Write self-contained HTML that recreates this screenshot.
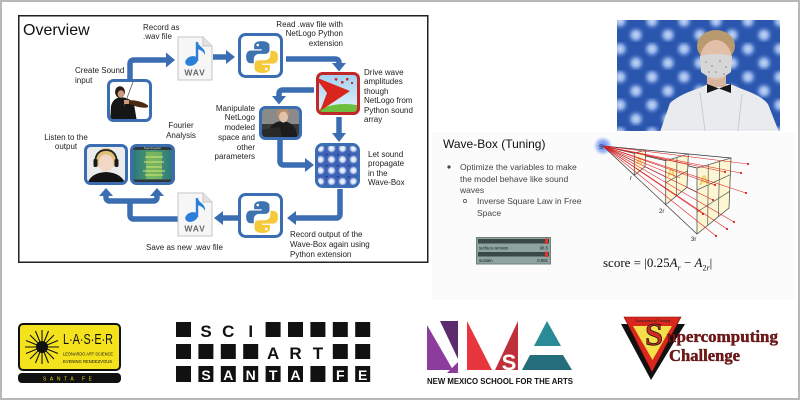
<!DOCTYPE html>
<html><head><meta charset="utf-8">
<style>
html,body{margin:0;padding:0;}
body{width:800px;height:400px;position:relative;overflow:hidden;background:#fff;font-family:"Liberation Sans",Arial,sans-serif;}
.frame{position:absolute;left:0;top:0;width:796px;height:396px;border:2px solid #b8b8b8;}
svg{position:absolute;left:0;top:0;}
.t{position:absolute;font-size:8px;line-height:9.5px;color:#222;white-space:nowrap;}
.r{text-align:right;}
.c{text-align:center;}
</style></head><body>
<svg width="800" height="400" viewBox="0 0 800 400" xmlns="http://www.w3.org/2000/svg">
<defs>
<radialGradient id="wg"><stop offset="0" stop-color="#ffffff"/><stop offset="0.55" stop-color="#c4d2f0"/><stop offset="1" stop-color="#3a5fb4" stop-opacity="0"/></radialGradient>
<pattern id="wp" width="11" height="11" patternUnits="userSpaceOnUse" x="315" y="143"><rect width="11" height="11" fill="#3d62b6"/><circle cx="5.5" cy="5.5" r="5" fill="url(#wg)"/><circle cx="0" cy="0" r="1.6" fill="#1c2f6e"/></pattern>
<radialGradient id="cg"><stop offset="0" stop-color="#c8d8f5"/><stop offset="0.4" stop-color="#8eaee6"/><stop offset="1" stop-color="#2a56ae" stop-opacity="0"/></radialGradient>
<pattern id="camp" width="32" height="28" patternUnits="userSpaceOnUse" x="612" y="14"><rect width="32" height="28" fill="#2a56ae"/><circle cx="8" cy="7" r="10" fill="url(#cg)"/><circle cx="24" cy="21" r="10" fill="url(#cg)"/></pattern>
<linearGradient id="sky" x1="0" y1="0" x2="0" y2="1"><stop offset="0" stop-color="#9fd0f2"/><stop offset="1" stop-color="#e6f4fb"/></linearGradient>
<linearGradient id="spec" x1="0" y1="0" x2="1" y2="0"><stop offset="0" stop-color="#2a7480"/><stop offset="0.5" stop-color="#4f9c6c"/><stop offset="1" stop-color="#2a7480"/></linearGradient>
<radialGradient id="glow"><stop offset="0" stop-color="#4a78f0"/><stop offset="0.6" stop-color="#7fa0f4" stop-opacity="0.7"/><stop offset="1" stop-color="#c8d6fa" stop-opacity="0"/></radialGradient>
<clipPath id="cam"><rect x="617" y="20" width="163" height="111"/></clipPath>
<clipPath id="c1"><rect x="108.5" y="80.5" width="42" height="40" rx="5"/></clipPath>
<clipPath id="c2"><rect x="85.5" y="145.5" width="41" height="38" rx="5"/></clipPath>
<clipPath id="c3"><rect x="131.5" y="145.5" width="42" height="38" rx="5"/></clipPath>
<clipPath id="c4"><rect x="260.5" y="107.5" width="40" height="31" rx="5"/></clipPath>
<clipPath id="c5"><rect x="317.5" y="73.5" width="41" height="40" rx="5"/></clipPath>
</defs>

<rect x="432" y="132" width="364" height="168" fill="#fbfbfb"/>

<rect x="18.75" y="15.75" width="409" height="246.5" fill="#fff" stroke="#222" stroke-width="1.5"/>

<g fill="none" stroke="#3b6db3" stroke-width="5.5" stroke-linejoin="round">
<path d="M130,80 V64 Q130,60 134,60 H167"/>
<path d="M213,57 H227"/>
<path d="M286,59 H335 Q339,59 339,63 V64"/>
<path d="M314,90 H283 Q279,90 279,94 V97"/>
<path d="M339,117 V134"/>
<path d="M280,140 V161 Q280,165 284,165 H306"/>
<path d="M340,189 V214 Q340,218 336,218 H295"/>
<path d="M238,218 H222"/>
<path d="M178,219 H134 Q130,219 130,215 V201"/>
<path d="M106,195 V197 Q106,201 110,201 H153 Q157,201 157,197 V195"/>
</g>
<g fill="#3b6db3">
<polygon points="166,52.5 175,60 166,67.5"/>
<polygon points="226,50 235,57 226,64"/>
<polygon points="332,63 339,71.5 346,63"/>
<polygon points="272,96 279,104.5 286,96"/>
<polygon points="332,133 339,142 346,133"/>
<polygon points="305,158 314,165 305,172"/>
<polygon points="296,211 287,218 296,225"/>
<polygon points="223,211 214,218 223,225"/>
<polygon points="99,196 106,188 113,196"/>
<polygon points="150,196 157,188 164,196"/>
</g>

<g transform="translate(178,37)">
<path d="M0,0 H25 L34,9 V43 H0 Z" fill="#f6f6f6" stroke="#c6c6c6" stroke-width="1"/>
<path d="M25,0 V9 H34" fill="#e2e2e2" stroke="#c6c6c6" stroke-width="1"/>
<ellipse cx="13.5" cy="24" rx="6.5" ry="4.6" transform="rotate(-22 13.5 24)" fill="#2b7fd8"/>
<rect x="17.8" y="5" width="2.4" height="19" fill="#2b7fd8"/>
<path d="M19.5,5 C21,10 28,11 27,18 C25.5,14 22,13 19.5,12 Z" fill="#2b7fd8"/>
<text x="17" y="38.5" text-anchor="middle" font-family="Liberation Sans,sans-serif" font-weight="bold" font-size="8.5" fill="#666" letter-spacing="0.8">WAV</text>
</g>
<g transform="translate(178,193)">
<path d="M0,0 H25 L34,9 V43 H0 Z" fill="#f6f6f6" stroke="#c6c6c6" stroke-width="1"/>
<path d="M25,0 V9 H34" fill="#e2e2e2" stroke="#c6c6c6" stroke-width="1"/>
<ellipse cx="13.5" cy="24" rx="6.5" ry="4.6" transform="rotate(-22 13.5 24)" fill="#2b7fd8"/>
<rect x="17.8" y="5" width="2.4" height="19" fill="#2b7fd8"/>
<path d="M19.5,5 C21,10 28,11 27,18 C25.5,14 22,13 19.5,12 Z" fill="#2b7fd8"/>
<text x="17" y="38.5" text-anchor="middle" font-family="Liberation Sans,sans-serif" font-weight="bold" font-size="8.5" fill="#666" letter-spacing="0.8">WAV</text>
</g>

<rect x="239.5" y="34.5" width="42" height="42" rx="6" fill="#fff" stroke="#3b6db3" stroke-width="3"/>
<g transform="translate(245,40) scale(1.1)">
<path d="M14.9,1 C10.2,1 8.3,2.9 8.3,5.3 V8.4 H15.1 V9.5 H5.4 C2.6,9.5 1,11.8 1,15.3 C1,18.9 2.6,21.1 5.4,21.1 H8 V17.4 C8,14.7 10.3,12.6 12.9,12.6 H18.6 C20.8,12.6 22.3,11 22.3,8.9 V5.3 C22.3,3.1 20.4,1 14.9,1 Z" fill="#3d74b0"/>
<g transform="rotate(180 15.5 15.5)"><path d="M14.9,1 C10.2,1 8.3,2.9 8.3,5.3 V8.4 H15.1 V9.5 H5.4 C2.6,9.5 1,11.8 1,15.3 C1,18.9 2.6,21.1 5.4,21.1 H8 V17.4 C8,14.7 10.3,12.6 12.9,12.6 H18.6 C20.8,12.6 22.3,11 22.3,8.9 V5.3 C22.3,3.1 20.4,1 14.9,1 Z" fill="#f6c93a"/><circle cx="11.6" cy="4.6" r="1.2" fill="#fff"/></g>
<circle cx="11.6" cy="4.6" r="1.2" fill="#fff"/>
</g>
<rect x="239.5" y="194.5" width="42" height="42" rx="6" fill="#fff" stroke="#3b6db3" stroke-width="3"/>
<g transform="translate(245,200) scale(1.1)">
<path d="M14.9,1 C10.2,1 8.3,2.9 8.3,5.3 V8.4 H15.1 V9.5 H5.4 C2.6,9.5 1,11.8 1,15.3 C1,18.9 2.6,21.1 5.4,21.1 H8 V17.4 C8,14.7 10.3,12.6 12.9,12.6 H18.6 C20.8,12.6 22.3,11 22.3,8.9 V5.3 C22.3,3.1 20.4,1 14.9,1 Z" fill="#3d74b0"/>
<g transform="rotate(180 15.5 15.5)"><path d="M14.9,1 C10.2,1 8.3,2.9 8.3,5.3 V8.4 H15.1 V9.5 H5.4 C2.6,9.5 1,11.8 1,15.3 C1,18.9 2.6,21.1 5.4,21.1 H8 V17.4 C8,14.7 10.3,12.6 12.9,12.6 H18.6 C20.8,12.6 22.3,11 22.3,8.9 V5.3 C22.3,3.1 20.4,1 14.9,1 Z" fill="#f6c93a"/><circle cx="11.6" cy="4.6" r="1.2" fill="#fff"/></g>
<circle cx="11.6" cy="4.6" r="1.2" fill="#fff"/>
</g>

<g clip-path="url(#c1)">
<rect x="108" y="80" width="43" height="41" fill="#fff"/>
<path d="M110,122 L111,106 Q113,98 121,97 Q130,98 134,104 L137,122 Z" fill="#161616"/>
<ellipse cx="120" cy="92" rx="5" ry="5.8" fill="#2a1d15"/>
<ellipse cx="121" cy="94" rx="3.4" ry="3.8" fill="#c99a7c"/>
<ellipse cx="138" cy="104" rx="10.5" ry="2.8" transform="rotate(14 138 104)" fill="#4a2a10"/>
<line x1="133" y1="82" x2="124" y2="106" stroke="#555" stroke-width="0.8"/>
<rect x="124" y="100" width="5" height="4" fill="#c99a7c"/>
</g>
<rect x="108.5" y="80.5" width="42" height="40" rx="5" fill="none" stroke="#3b6db3" stroke-width="3"/>

<g clip-path="url(#c2)">
<rect x="85" y="145" width="43" height="40" fill="#ececec"/>
<ellipse cx="106" cy="159" rx="10" ry="11" fill="#e0bf78"/>
<ellipse cx="106" cy="163" rx="7.5" ry="8.5" fill="#f2d6c6"/>
<path d="M95,164 Q95,150 106,150 Q117,150 117,164" fill="none" stroke="#222" stroke-width="1.8"/>
<rect x="93.5" y="159" width="4" height="8" rx="1.5" fill="#1a1a1a"/>
<rect x="114.5" y="159" width="4" height="8" rx="1.5" fill="#1a1a1a"/>
<path d="M87,186 Q89,173 106,172 Q123,173 126,186 Z" fill="#141414"/>
</g>
<rect x="85.5" y="145.5" width="41" height="38" rx="5" fill="none" stroke="#3b6db3" stroke-width="3"/>

<g clip-path="url(#c3)">
<rect x="131" y="145" width="43" height="40" fill="url(#spec)"/>
<rect x="131" y="145" width="43" height="5" fill="#2e3c3e"/>
<text x="152.5" y="149.2" text-anchor="middle" font-family="Liberation Sans,sans-serif" font-size="3" fill="#ddd">Spectrogram</text>
<rect x="146" y="152" width="16" height="27" fill="#9ccc58" opacity="0.55"/>
<g stroke="#d7e870" stroke-width="1"><line x1="145" y1="157" x2="163" y2="157"/><line x1="144" y1="162" x2="164" y2="162"/><line x1="146" y1="167" x2="162" y2="167"/><line x1="143" y1="171" x2="165" y2="171"/><line x1="145" y1="175" x2="163" y2="175"/></g>
<rect x="131" y="179.5" width="43" height="5" fill="#303637"/>
</g>
<rect x="131.5" y="145.5" width="42" height="38" rx="5" fill="none" stroke="#3b6db3" stroke-width="3"/>

<g clip-path="url(#c4)">
<rect x="260" y="107" width="42" height="33" fill="#8a8a8a"/>
<rect x="260" y="124" width="42" height="16" fill="#3a3a3a"/>
<path d="M268,140 L270,128 Q274,121 283,121 Q292,122 296,130 L298,140 Z" fill="#1c1c1c"/>
<ellipse cx="283" cy="114" rx="6.5" ry="6.5" fill="#b08d6c"/>
<ellipse cx="283.5" cy="117" rx="4.5" ry="5.5" fill="#e2c1ad"/>
<polygon points="260,130 280,127 282,140 260,140" fill="#2a2a2a"/>
</g>
<rect x="260.5" y="107.5" width="40" height="31" rx="5" fill="none" stroke="#3b6db3" stroke-width="3"/>

<g clip-path="url(#c5)">
<rect x="317" y="73" width="42" height="41" fill="url(#sky)"/>
<ellipse cx="345" cy="118" rx="32" ry="14" fill="#6fbf3f"/>
<polygon points="315,77 350,91 320,111 327,93" fill="#d8261f"/>
<g fill="#d8261f"><rect x="335" y="78" width="2.5" height="2.5" transform="rotate(30 336 79)"/><rect x="341" y="81" width="2.5" height="2.5"/><rect x="346" y="78" width="2.5" height="2.5"/><rect x="351" y="82" width="2" height="2"/></g>
</g>
<rect x="317.5" y="73.5" width="41" height="40" rx="5" fill="none" stroke="#c0282a" stroke-width="3"/>

<rect x="316.5" y="144.5" width="42" height="42" rx="6" fill="url(#wp)" stroke="#3b6db3" stroke-width="3"/>

<g clip-path="url(#cam)">
<rect x="617" y="20" width="163" height="111" fill="url(#camp)"/>
<path d="M660,132 L670,103 Q680,94 700,88 L708,84 H730 L742,89 Q762,96 768,104 L779,132 Z" fill="#e9ebee"/>
<path d="M700,92 L705,131 M742,94 L738,131" stroke="#c9ccd2" stroke-width="1" fill="none"/>
<rect x="707" y="74" width="19" height="13" fill="#d8b49f"/>
<ellipse cx="716" cy="46" rx="19" ry="16" fill="#b89a6e"/>
<ellipse cx="716" cy="60" rx="16" ry="20" fill="#e2bfa9"/>
<path d="M700,56 Q716,52 732,56 L731,72 Q716,84 701,72 Z" fill="#d6d6d6"/>
<g fill="#888"><circle cx="706" cy="62" r="0.8"/><circle cx="712" cy="66" r="0.8"/><circle cx="720" cy="61" r="0.8"/><circle cx="726" cy="67" r="0.8"/><circle cx="716" cy="72" r="0.8"/><circle cx="709" cy="72" r="0.8"/><circle cx="724" cy="74" r="0.8"/></g>
<polygon points="707,84 719,88.5 707,93" fill="#161616"/>
<polygon points="731,84 719,88.5 731,93" fill="#161616"/>
</g>

<circle cx="603" cy="146" r="10" fill="url(#glow)"/>
<g stroke="#333" stroke-width="0.7" fill="none">
<line x1="603" y1="146" x2="697" y2="168"/>
<line x1="603" y1="146" x2="731" y2="158"/>
<line x1="603" y1="146" x2="729" y2="208"/>
<line x1="603" y1="146" x2="697" y2="234"/>
</g>
<g stroke="#555" stroke-width="0.8" fill="#fcf6d2">
<polygon points="634.3,153.3 645.7,150 645,166.7 634.3,175.3"/>
<polygon points="665.7,160.7 688.3,154 687,187.3 665.7,204.7"/>
<polygon points="697,168 731,158 729,208 697,234"/>
</g>
<g stroke="#555" stroke-width="0.7">
<line x1="677" y1="157.3" x2="676.3" y2="196"/>
<line x1="665.7" y1="182.7" x2="687.7" y2="170.7"/>
<line x1="708.3" y1="164.7" x2="707.7" y2="225.3"/>
<line x1="719.7" y1="161.3" x2="718.3" y2="216.7"/>
<line x1="697" y1="190" x2="730.3" y2="174.7"/>
<line x1="697" y1="212" x2="729.7" y2="191.3"/>
</g>
<g font-family="Liberation Sans,sans-serif" font-weight="bold" fill="#f0cf58">
<text x="636" y="164" font-size="9">A</text>
<text x="667" y="177" font-size="12">A</text>
<text x="699" y="185" font-size="14">A</text>
</g>
<g stroke="#d22" stroke-width="0.6">
<line x1="603" y1="146" x2="748" y2="164"/>
<line x1="603" y1="146" x2="741" y2="173"/>
<line x1="603" y1="146" x2="746" y2="193"/>
<line x1="603" y1="146" x2="734" y2="222"/>
<line x1="603" y1="146" x2="727" y2="229"/>
<line x1="603" y1="146" x2="716" y2="236"/>
<line x1="603" y1="146" x2="725" y2="172"/>
<line x1="603" y1="146" x2="715" y2="185"/>
<line x1="603" y1="146" x2="713" y2="200"/>
<line x1="603" y1="146" x2="703" y2="214"/>
<line x1="603" y1="146" x2="690" y2="165"/>
<line x1="603" y1="146" x2="680" y2="178"/>
</g>
<g fill="#c00">
<circle cx="748" cy="164" r="1"/><circle cx="741" cy="173" r="1"/><circle cx="746" cy="193" r="1"/><circle cx="734" cy="222" r="1"/><circle cx="727" cy="229" r="1"/><circle cx="716" cy="236" r="1"/><circle cx="725" cy="172" r="1"/><circle cx="715" cy="185" r="1"/><circle cx="713" cy="200" r="1"/><circle cx="703" cy="214" r="1"/>
</g>
<g font-family="Liberation Sans,sans-serif" font-size="6" fill="#222">
<text x="599" y="149">S</text>
<text x="630" y="180">r</text>
<text x="659" y="213">2r</text>
<text x="691" y="241">3r</text>
</g>

<circle cx="449" cy="167" r="1.6" fill="#444"/>
<circle cx="465" cy="201" r="1.6" fill="none" stroke="#444" stroke-width="0.7"/>

<rect x="476.5" y="237.5" width="74" height="26.5" fill="#8ea59f" stroke="#6e807c" stroke-width="1"/>
<rect x="478" y="239" width="71" height="4.5" fill="#3b4946"/>
<rect x="545" y="238.5" width="3" height="5.5" fill="#d33"/>
<rect x="478" y="252" width="71" height="4.5" fill="#3b4946"/>
<rect x="545" y="251.5" width="3" height="5.5" fill="#d33"/>
<g font-family="Liberation Sans,sans-serif" font-size="4.3" fill="#1c1c1c">
<text x="479" y="249.5">surface-tension</text>
<text x="548" y="249.5" text-anchor="end">98.5</text>
<text x="479" y="262">sustain</text>
<text x="548" y="262" text-anchor="end">0.991</text>
</g>

<rect x="19" y="324" width="101" height="46" rx="4" fill="#f4e31c" stroke="#111" stroke-width="2"/>
<rect x="18" y="373" width="103" height="10" rx="4" fill="#111"/>
<g stroke="#111" stroke-width="1.1">
<line x1="42" y1="330" x2="42" y2="364"/><line x1="25" y1="347" x2="59" y2="347"/>
<line x1="30" y1="335" x2="54" y2="359"/><line x1="54" y1="335" x2="30" y2="359"/>
<line x1="35.5" y1="331" x2="48.5" y2="363"/><line x1="48.5" y1="331" x2="35.5" y2="363"/>
<line x1="26" y1="340.5" x2="58" y2="353.5"/><line x1="26" y1="353.5" x2="58" y2="340.5"/>
</g>
<circle cx="42" cy="347" r="6" fill="#111"/>
<g font-family="Liberation Sans,sans-serif" fill="#111">
<text x="63" y="344" font-size="15" textLength="50" lengthAdjust="spacingAndGlyphs">L·A·S·E·R</text>
<text x="63" y="355.5" font-size="4.6" textLength="50" lengthAdjust="spacingAndGlyphs">LEONARDO ART SCIENCE</text>
<text x="63" y="363" font-size="4.6" textLength="49" lengthAdjust="spacingAndGlyphs">EVENING RENDEZVOUS</text>
</g>
<text x="43" y="380.5" font-family="Liberation Sans,sans-serif" font-size="5" fill="#e8d81c" textLength="49" lengthAdjust="spacing">SANTA FE</text>

<g fill="#111">
<rect x="176" y="322" width="15" height="15"/>
<rect x="265.6" y="322" width="15" height="15"/><rect x="288" y="322" width="15" height="15"/><rect x="310.4" y="322" width="15" height="15"/><rect x="332.8" y="322" width="15" height="15"/><rect x="355.2" y="322" width="15" height="15"/>
<rect x="176" y="344" width="15" height="15"/><rect x="198.4" y="344" width="15" height="15"/><rect x="220.8" y="344" width="15" height="15"/><rect x="243.2" y="344" width="15" height="15"/>
<rect x="332.8" y="344" width="15" height="15"/><rect x="355.2" y="344" width="15" height="15"/>
<rect x="176" y="366" width="15" height="16"/><rect x="198.4" y="366" width="15" height="16"/><rect x="220.8" y="366" width="15" height="16"/><rect x="243.2" y="366" width="15" height="16"/><rect x="265.6" y="366" width="15" height="16"/><rect x="288" y="366" width="15" height="16"/><rect x="310.4" y="366" width="15" height="16"/><rect x="332.8" y="366" width="15" height="16"/><rect x="355.2" y="366" width="15" height="16"/>
</g>
<g font-family="Liberation Sans,sans-serif" font-weight="bold" font-size="17" fill="#111" text-anchor="middle">
<text x="206" y="337">S</text><text x="228.3" y="337">C</text><text x="250.7" y="337">I</text>
<text x="273.1" y="359">A</text><text x="295.5" y="359">R</text><text x="317.9" y="359">T</text>
</g>
<g font-family="Liberation Sans,sans-serif" font-weight="bold" font-size="14" fill="#fff" text-anchor="middle">
<text x="206" y="380">S</text><text x="228.3" y="380">A</text><text x="250.7" y="380">N</text><text x="273.1" y="380">T</text><text x="295.5" y="380">A</text>
<text x="340.3" y="380">F</text><text x="362.7" y="380">E</text>
</g>

<polygon points="427,325 453,370 427,370" fill="#8b3c9c"/>
<polygon points="440,321 458,321 458,359" fill="#5b2d6e"/>
<polygon points="447,373 458,373 458,362" fill="#8b3c9c"/>
<polygon points="467,321 467,370 492,370" fill="#e8363f"/>
<polygon points="518,321 495,370 518,370" fill="#c0303a"/>
<text x="509" y="370" text-anchor="middle" font-family="Liberation Sans,sans-serif" font-weight="bold" font-size="22" fill="#fff">S</text>
<polygon points="547,321 534,346 561,346" fill="#2a8a96"/>
<polygon points="530,355 563,355 572,370 522,370" fill="#236e7a"/>
<text x="427" y="384" font-family="Liberation Sans,sans-serif" font-weight="bold" font-size="8" fill="#111" textLength="146" lengthAdjust="spacingAndGlyphs">NEW MEXICO SCHOOL FOR THE ARTS</text>

<polygon points="621,324 685,324 651,380" fill="#111"/>
<polygon points="624,317 681,317 652,372" fill="#d9271e" stroke="#7a0c0c" stroke-width="0.6"/>
<polygon points="633,326 672,326 652.5,360" fill="#f3e04a"/>
<text x="652.5" y="322" text-anchor="middle" font-family="Liberation Sans,sans-serif" font-size="3.4" fill="#222">Computational Thinking</text>
<text x="654" y="345" text-anchor="middle" font-family="Liberation Serif,serif" font-weight="bold" font-size="32" fill="#d42a20" stroke="#111" stroke-width="0.8">S</text>
<g font-family="Liberation Serif,serif" font-weight="bold" font-size="16.5" fill="#7e1414" stroke="#2a0505" stroke-width="0.35">
<text x="667" y="342" textLength="111" lengthAdjust="spacingAndGlyphs">upercomputing</text>
<text x="669" y="361" textLength="71" lengthAdjust="spacingAndGlyphs">Challenge</text>
</g>
</svg>

<div class="frame"></div>

<div class="t" style="left:23px;top:23px;font-size:16px;line-height:16px;color:#111;">Overview</div>
<div class="t" style="left:143px;top:22.5px;">Record as<br>.wav file</div>
<div class="t" style="left:75px;top:66px;">Create Sound<br>input</div>
<div class="t r" style="right:457px;top:19.5px;">Read .wav file with<br>NetLogo Python<br>extension</div>
<div class="t" style="left:364px;top:67.5px;">Drive wave<br>amplitudes<br>though<br>NetLogo from<br>Python sound<br>array</div>
<div class="t r" style="right:545px;top:103.5px;line-height:9.8px;">Manipulate<br>NetLogo<br>modeled<br>space and<br>other<br>parameters</div>
<div class="t c" style="left:161px;width:40px;top:120.5px;line-height:10.5px;">Fourier<br>Analysis</div>
<div class="t c" style="left:36px;width:60px;top:132.5px;">Listen to the<br>output</div>
<div class="t" style="left:368px;top:149.5px;">Let sound<br>propagate<br>in the<br>Wave-Box</div>
<div class="t" style="left:146px;top:242.5px;">Save as new .wav file</div>
<div class="t" style="left:290px;top:229.5px;line-height:10px;">Record output of the<br>Wave-Box again using<br>Python extension</div>

<div class="t" style="left:443px;top:137px;font-size:12px;line-height:14px;color:#111;">Wave-Box (Tuning)</div>
<div class="t" style="left:460px;top:162px;font-size:8.5px;line-height:11.7px;color:#444;">Optimize the variables to make<br>the model behave like sound<br>waves</div>
<div class="t" style="left:477px;top:196px;font-size:8.5px;line-height:11.7px;color:#444;">Inverse Square Law in Free<br>Space</div>
<div class="t" style="left:603px;top:255px;font-family:'Liberation Serif',serif;font-size:13px;line-height:16px;color:#111;">score = |0.25<i>A</i><sub style="font-size:8px;"><i>r</i></sub> − <i>A</i><sub style="font-size:8px;">2<i>r</i></sub>|</div>
</body></html>
